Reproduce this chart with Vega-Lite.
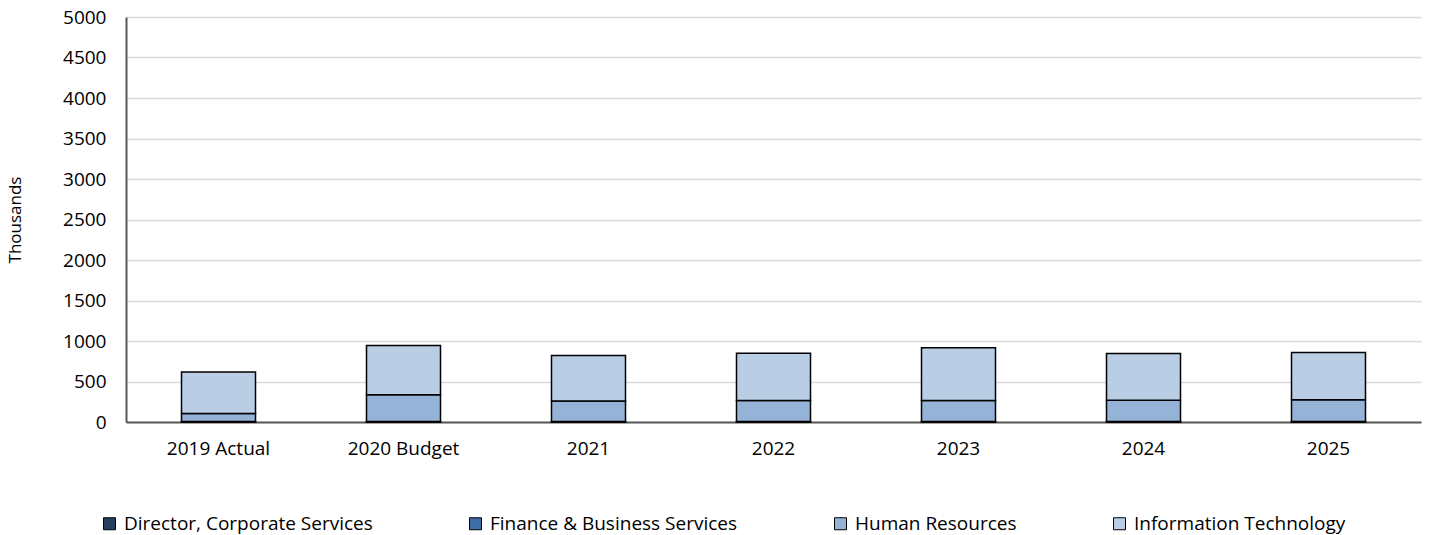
{
  "$schema": "https://vega.github.io/schema/vega-lite/v6.json",
  "autosize": {"type": "none"},
  "width": 1295,
  "height": 405,
  "padding": {"left": 126, "top": 17, "right": 10, "bottom": 113},
  "background": "white",
  "config": {
    "font": "Open Sans",
    "view": {"stroke": null},
    "axis": {"labelFont": "Open Sans", "titleFont": "Open Sans", "labelColor": "#000000", "titleColor": "#000000"}
  },
  "data": {
    "values": [
      {"year": "2019 Actual", "division": "Director, Corporate Services", "value": 2},
      {"year": "2019 Actual", "division": "Finance & Business Services", "value": 4},
      {"year": "2019 Actual", "division": "Human Resources", "value": 99},
      {"year": "2019 Actual", "division": "Information Technology", "value": 511},
      {"year": "2020 Budget", "division": "Director, Corporate Services", "value": 2},
      {"year": "2020 Budget", "division": "Finance & Business Services", "value": 4},
      {"year": "2020 Budget", "division": "Human Resources", "value": 330},
      {"year": "2020 Budget", "division": "Information Technology", "value": 608},
      {"year": "2021", "division": "Director, Corporate Services", "value": 2},
      {"year": "2021", "division": "Finance & Business Services", "value": 4},
      {"year": "2021", "division": "Human Resources", "value": 252},
      {"year": "2021", "division": "Information Technology", "value": 563},
      {"year": "2022", "division": "Director, Corporate Services", "value": 2},
      {"year": "2022", "division": "Finance & Business Services", "value": 4},
      {"year": "2022", "division": "Human Resources", "value": 260},
      {"year": "2022", "division": "Information Technology", "value": 584},
      {"year": "2023", "division": "Director, Corporate Services", "value": 2},
      {"year": "2023", "division": "Finance & Business Services", "value": 4},
      {"year": "2023", "division": "Human Resources", "value": 260},
      {"year": "2023", "division": "Information Technology", "value": 650},
      {"year": "2024", "division": "Director, Corporate Services", "value": 2},
      {"year": "2024", "division": "Finance & Business Services", "value": 4},
      {"year": "2024", "division": "Human Resources", "value": 264},
      {"year": "2024", "division": "Information Technology", "value": 576},
      {"year": "2025", "division": "Director, Corporate Services", "value": 2},
      {"year": "2025", "division": "Finance & Business Services", "value": 4},
      {"year": "2025", "division": "Human Resources", "value": 268},
      {"year": "2025", "division": "Information Technology", "value": 584}
    ]
  },
  "mark": {"type": "bar", "stroke": "#000000", "strokeWidth": 1.5},
  "encoding": {
    "x": {
      "field": "year", "type": "nominal", "sort": null,
      "scale": {"paddingInner": 0.6, "paddingOuter": 0.3},
      "axis": {
        "title": null, "labelAngle": 0, "labelFontSize": 19, "labelPadding": 17,
        "ticks": false, "domainColor": "#595959", "domainWidth": 2, "grid": false
      }
    },
    "y": {
      "field": "value", "type": "quantitative", "stack": "zero",
      "scale": {"domain": [0, 5000], "nice": false},
      "axis": {
        "title": "Thousands", "titleFontSize": 17, "titleFontWeight": "normal", "titlePadding": 38,
        "values": [0, 500, 1000, 1500, 2000, 2500, 3000, 3500, 4000, 4500, 5000],
        "format": "d",
        "labelFontSize": 19, "labelPadding": 20, "ticks": false,
        "domainColor": "#595959", "domainWidth": 2,
        "gridColor": "#d9d9d9", "gridWidth": 1.5
      }
    },
    "order": {"field": "division", "type": "nominal", "sort": "ascending"},
    "color": {
      "field": "division", "type": "nominal",
      "scale": {
        "domain": ["Director, Corporate Services", "Finance & Business Services", "Human Resources", "Information Technology"],
        "range": ["#243F60", "#3E6DA8", "#95B3D7", "#B9CDE5"]
      },
      "legend": {
        "title": null, "orient": "none", "direction": "horizontal", "columns": 4,
        "legendX": -26, "legendY": 497,
        "symbolType": "square", "symbolSize": 144, "symbolStrokeColor": "#000000", "symbolStrokeWidth": 1,
        "symbolOffset": 0, "labelOffset": 5,
        "labelFontSize": 19, "labelFont": "Open Sans", "labelColor": "#000000", "labelLimit": 400,
        "columnPadding": 93
      }
    }
  }
}
